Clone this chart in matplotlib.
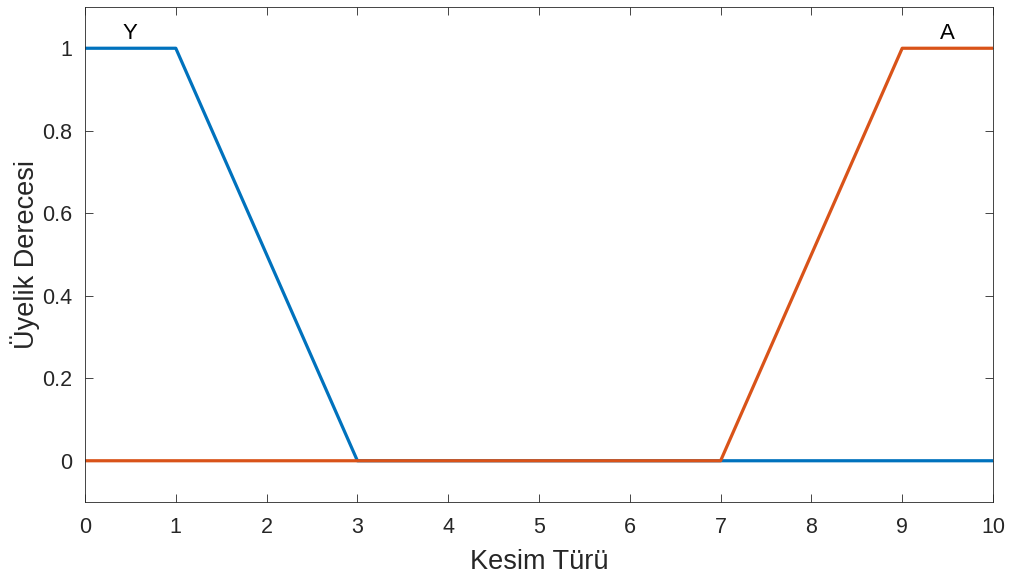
import matplotlib
matplotlib.use("Agg")
import matplotlib.pyplot as plt

plt.rcParams['font.family'] = ['Liberation Sans', 'DejaVu Sans']

x_y = [0, 1, 3, 10]
mu_y = [1, 1, 0, 0]
x_a = [0, 7, 9, 10]
mu_a = [0, 0, 1, 1]
labels = ["Y", "A"]
label_x = [0.5, 9.5]
label_y = [1.01, 1.01]
xticks = list(range(0, 11))
yticks = [0, 0.2, 0.4, 0.6, 0.8, 1]
ytick_labels = ["0", "0.2", "0.4", "0.6", "0.8", "1"]

fig = plt.figure(figsize=(10.09, 5.78), dpi=100)
ax = fig.add_axes([85/1009, (578-502)/578, (993-85)/1009, (502-7)/578])
ax.plot(x_y, mu_y, color='#0072BD', lw=2.3)
ax.plot(x_a, mu_a, color='#D95319', lw=2.3)
for t, xx, yy in zip(labels, label_x, label_y):
    ax.text(xx, yy, t, ha='center', va='bottom', fontsize=16, color='black')
ax.set_xlim(0, 10)
ax.set_ylim(-0.1, 1.1)
ax.set_xticks(xticks)
ax.set_yticks(yticks)
ax.set_yticklabels(ytick_labels)
ax.tick_params(direction='in', top=True, right=True, labelsize=15.5, colors='#262626', length=6, width=0.6)
ax.tick_params(axis='x', pad=11)
ax.tick_params(axis='y', pad=9)
for s in ax.spines.values():
    s.set_color('#262626')
    s.set_linewidth(0.6)
ax.set_xlabel('Kesim Türü', fontsize=19.5, color='#262626', labelpad=8)
ax.set_ylabel('Üyelik Derecesi', fontsize=19.5, color='#262626', labelpad=2)
fig.savefig('out.png', dpi=100)
